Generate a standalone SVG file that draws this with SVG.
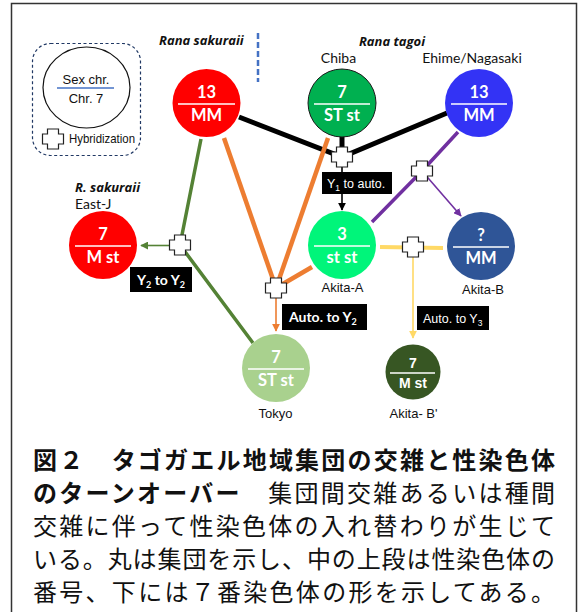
<svg xmlns="http://www.w3.org/2000/svg" width="579" height="612" viewBox="0 0 579 612">
<style>
.lbl{font-family:Lato,"Open Sans",sans-serif;font-size:14px;fill:#111}
.ar{font-family:"Liberation Sans",Arial,sans-serif;font-size:13px;fill:#111}
.sp{font-family:"Open Sans",Lato,sans-serif;font-size:13px;font-weight:bold;font-style:italic;fill:#111}
.ct{font-family:Lato,"Open Sans",sans-serif;font-size:16.5px;font-weight:bold;fill:#fff;text-anchor:middle}
.ca{font-family:"Liberation Sans",Arial,sans-serif;font-size:14px;font-weight:bold;fill:#fff;text-anchor:middle}
.bx{fill:#000}
.bt{font-family:Lato,"Open Sans",sans-serif;font-size:14px;font-weight:bold;fill:#fff}
.bn{font-family:"Liberation Sans",Arial,sans-serif;font-size:12.5px;fill:#fff}
.cap{font-family:"Noto Sans CJK JP","Noto Sans CJK SC",sans-serif;font-size:24px;fill:#111}
.hy{fill:#fff;stroke:#222;stroke-width:1.2}
.div{stroke:#fff;stroke-width:1.5}
</style>
<defs>
<path id="hyb" d="M-5.5,-10 H5.5 V-5 H10.5 V5 H5.5 V10 H-5.5 V5 H-10.5 V-5 H-5.5 Z"/>
<marker id="aK" viewBox="0 0 10 10" refX="9" refY="5" markerWidth="5" markerHeight="5" orient="auto"><path d="M0,0 L10,5 L0,10 Z" fill="#000"/></marker>
<marker id="aP" viewBox="0 0 10 10" refX="9" refY="5" markerWidth="5" markerHeight="5" orient="auto"><path d="M0,0 L10,5 L0,10 Z" fill="#7030A0"/></marker>
<marker id="aG" viewBox="0 0 10 10" refX="9" refY="5" markerWidth="5" markerHeight="5" orient="auto"><path d="M0,0 L10,5 L0,10 Z" fill="#548235"/></marker>
<marker id="aO" viewBox="0 0 10 10" refX="9" refY="5" markerWidth="5" markerHeight="5" orient="auto"><path d="M0,0 L10,5 L0,10 Z" fill="#ED7D31"/></marker>
<marker id="aY" viewBox="0 0 10 10" refX="9" refY="5" markerWidth="5" markerHeight="5" orient="auto"><path d="M0,0 L10,5 L0,10 Z" fill="#FFD966"/></marker>
</defs>

<path d="M11.5,612 V3.5 H576.5 V612" fill="none" stroke="#333" stroke-width="1.5"/>

<g id="legend">
<rect x="32.5" y="43.5" width="108" height="112" rx="18" fill="none" stroke="#203864" stroke-width="1.2" stroke-dasharray="3,2.5"/>
<ellipse cx="86.5" cy="87.5" rx="43.5" ry="40.5" fill="#fff" stroke="#111" stroke-width="1.2"/>
<line x1="57" y1="88" x2="114" y2="88" stroke="#4472C4" stroke-width="1.5"/>
<text x="86" y="84" class="ar" font-size="14" text-anchor="middle">Sex chr.</text>
<text x="86" y="103" class="ar" font-size="14" text-anchor="middle">Chr. 7</text>
<use href="#hyb" x="53" y="139" class="hy"/>
<text x="69" y="143" class="ar" font-size="12" textLength="66" lengthAdjust="spacingAndGlyphs">Hybridization</text>
</g>

<g id="headers">
<text x="159" y="45" class="sp">Rana sakuraii</text>
<line x1="258" y1="33" x2="258" y2="82" stroke="#4472C4" stroke-width="2.5" stroke-dasharray="6,3"/>
<text x="392" y="46" class="sp" text-anchor="middle">Rana tagoi</text>
<text x="338.5" y="63" class="lbl" text-anchor="middle">Chiba</text>
<text x="472" y="63" class="lbl" text-anchor="middle">Ehime/Nagasaki</text>
<text x="75" y="192" class="sp">R. sakuraii</text>
<text x="75" y="209" class="lbl">East-J</text>
</g>

<g id="connectors" fill="none" stroke-linecap="butt">
<polyline points="239,117 342,157 447,113" stroke="#000" stroke-width="5"/>
<line x1="342" y1="136" x2="342" y2="152" stroke="#000" stroke-width="5"/>
<line x1="342" y1="166" x2="342" y2="210" stroke="#000" stroke-width="1.6" marker-end="url(#aK)"/>
<polyline points="458,132 422,171 372,222" stroke="#7030A0" stroke-width="3.5"/>
<line x1="422" y1="171" x2="461" y2="216" stroke="#7030A0" stroke-width="1.6" marker-end="url(#aP)"/>
<polyline points="201,139 180,245 253,343" stroke="#548235" stroke-width="3.5"/>
<line x1="170" y1="245.5" x2="141" y2="245.5" stroke="#548235" stroke-width="1.6" marker-end="url(#aG)"/>
<line x1="224" y1="138" x2="276" y2="288" stroke="#ED7D31" stroke-width="4.5"/>
<line x1="328" y1="138" x2="276" y2="288" stroke="#ED7D31" stroke-width="4.5"/>
<line x1="312" y1="267" x2="276" y2="288" stroke="#ED7D31" stroke-width="4.5"/>
<line x1="276" y1="298" x2="276" y2="331" stroke="#ED7D31" stroke-width="1.6" marker-end="url(#aO)"/>
<line x1="380" y1="247" x2="443" y2="248" stroke="#FFD966" stroke-width="4"/>
<line x1="413" y1="257" x2="413" y2="338" stroke="#FFD966" stroke-width="1.6" marker-end="url(#aY)"/>
<use href="#hyb" x="342" y="157" class="hy"/>
<use href="#hyb" x="422" y="171" class="hy"/>
<use href="#hyb" x="180" y="245" class="hy"/>
<use href="#hyb" x="276" y="288" class="hy"/>
<use href="#hyb" x="413" y="247" class="hy"/>
<rect x="322" y="172" width="70" height="22" class="bx"/>
<text x="327" y="188" class="bn" font-size="13">Y<tspan font-size="8.5" dy="3">1</tspan><tspan dy="-3"> to auto.</tspan></text>
<rect x="130" y="267" width="62" height="25" class="bx"/>
<text x="161" y="285" class="bt" text-anchor="middle">Y<tspan font-size="9" dy="3">2</tspan><tspan dy="-3"> to Y</tspan><tspan font-size="9" dy="3">2</tspan></text>
<rect x="282" y="304" width="85" height="26" class="bx"/>
<text x="289" y="322" class="bt">Auto. to Y<tspan font-size="9" dy="3">2</tspan></text>
<rect x="417" y="306" width="72" height="24" class="bx"/>
<text x="423" y="323" class="bn">Auto. to Y<tspan font-size="8.5" dy="3">3</tspan></text>
</g>

<g id="n-sakuraii13">
<circle cx="206.5" cy="103" r="34" fill="#FF0000"/>
<line x1="178" y1="104" x2="235" y2="104" class="div"/>
<text x="206.5" y="98" class="ct">13</text>
<text x="206.5" y="121" class="ct">MM</text>
</g>
<g id="n-chiba">
<circle cx="342" cy="103" r="34" fill="#00B050" stroke="#1a1a1a" stroke-width="1"/>
<line x1="314" y1="104" x2="370" y2="104" class="div"/>
<text x="342" y="98" class="ct">7</text>
<text x="342" y="121" class="ct">ST st</text>
</g>
<g id="n-ehime">
<circle cx="479" cy="103" r="34" fill="#3333F5"/>
<line x1="451" y1="104" x2="507" y2="104" class="div"/>
<text x="479" y="98" class="ct">13</text>
<text x="479" y="121" class="ct">MM</text>
</g>
<g id="n-eastj">
<circle cx="103" cy="245" r="34" fill="#FF0000"/>
<line x1="75" y1="246" x2="131" y2="246" class="div"/>
<text x="103" y="240" class="ct">7</text>
<text x="103" y="263" class="ct">M st</text>
</g>
<g id="n-akitaA">
<circle cx="342" cy="245" r="34" fill="#00F57A"/>
<line x1="314" y1="246" x2="370" y2="246" class="div"/>
<text x="342" y="240" class="ct">3</text>
<text x="342" y="263" class="ct">st st</text>
<text x="342.5" y="292" class="ar" text-anchor="middle">Akita-A</text>
</g>
<g id="n-akitaB">
<circle cx="481" cy="246" r="34" fill="#2F5597"/>
<line x1="453" y1="247" x2="509" y2="247" class="div"/>
<text x="481" y="241" class="ct">?</text>
<text x="481" y="264" class="ct">MM</text>
<text x="483" y="294" class="ar" text-anchor="middle">Akita-B</text>
</g>
<g id="n-tokyo">
<circle cx="276" cy="368" r="34" fill="#A9D18E"/>
<line x1="248" y1="369" x2="304" y2="369" class="div"/>
<text x="276" y="363" class="ct">7</text>
<text x="276" y="386" class="ct">ST st</text>
<text x="275.5" y="418" class="ar" text-anchor="middle">Tokyo</text>
</g>
<g id="n-akitaB2">
<circle cx="413" cy="372" r="27.5" fill="#375623"/>
<line x1="390" y1="373" x2="435" y2="373" class="div"/>
<text x="413" y="368" class="ca">7</text>
<text x="413" y="388" class="ca">M st</text>
<text x="413.5" y="418" class="ar" text-anchor="middle">Akita- B'</text>
</g>

<g id="caption">
<text x="33" y="469" class="cap" font-weight="bold" textLength="522" lengthAdjust="spacing">図２　タゴガエル地域集団の交雑と性染色体</text>
<text x="33" y="502" class="cap" textLength="522" lengthAdjust="spacing"><tspan font-weight="bold">のターンオーバー</tspan>　集団間交雑あるいは種間</text>
<text x="33" y="535" class="cap" textLength="522" lengthAdjust="spacing">交雑に伴って性染色体の入れ替わりが生じて</text>
<text x="33" y="568" class="cap" textLength="522" lengthAdjust="spacing">いる。丸は集団を示し、中の上段は性染色体の</text>
<text x="33" y="601" class="cap" textLength="522" lengthAdjust="spacing">番号、下には７番染色体の形を示してある。</text>
</g>
</svg>
